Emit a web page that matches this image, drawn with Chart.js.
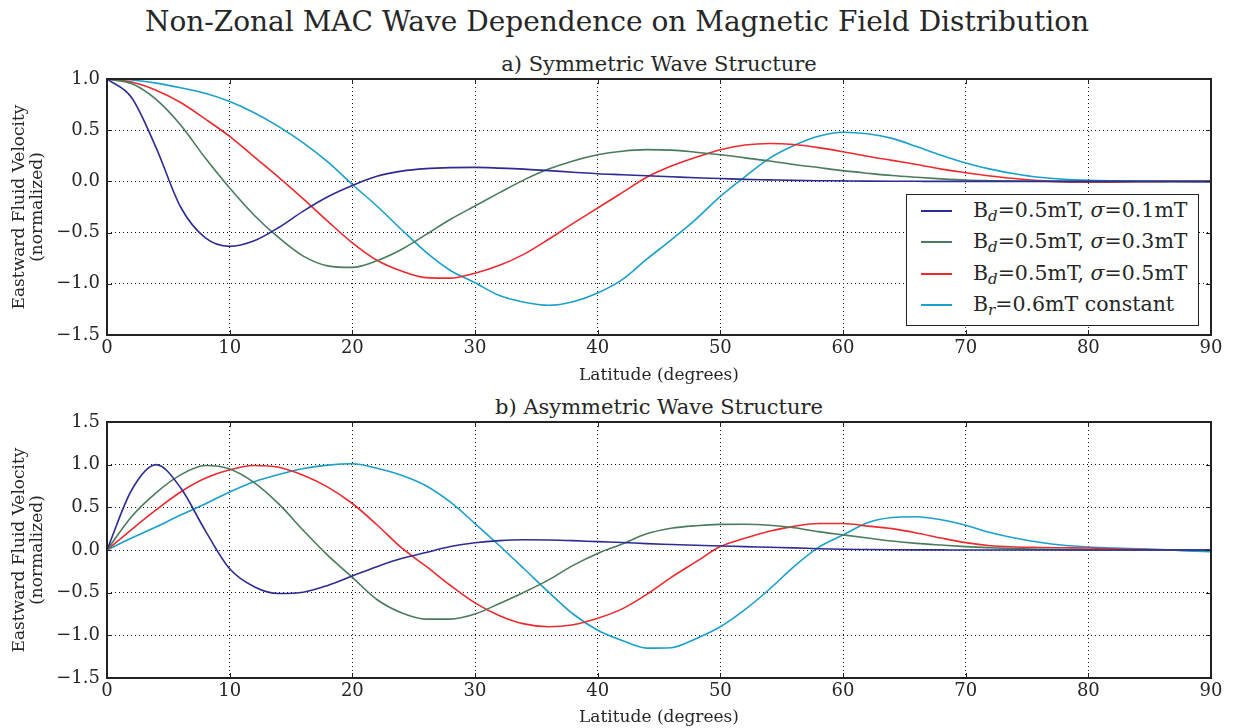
<!DOCTYPE html>
<html><head><meta charset="utf-8">
<script src="https://cdn.jsdelivr.net/npm/chart.js@4.4.1/dist/chart.umd.min.js"></script>
<style>
html,body{margin:0;padding:0;background:#fff;width:1234px;height:728px;overflow:hidden;font-family:"DejaVu Serif",serif;color:#262626}
#title{position:absolute;left:0;top:6px;width:1234px;text-align:center;font-size:28px;line-height:32px;white-space:nowrap}
.sub{position:absolute;left:107px;width:1104px;text-align:center;font-size:21px;line-height:24px;white-space:nowrap}
canvas{position:absolute;left:0}
#legend{position:absolute;left:906px;top:194px;width:293px;height:132px;border:1.5px solid #222;background:#fff;box-sizing:border-box;font-size:20.5px;z-index:5}
.row{position:absolute;left:0;width:100%;height:30px}
.swatch{position:absolute;left:14px;top:14px;width:31px;height:2px}
.lab{position:absolute;left:66px;top:2px;line-height:24px;white-space:nowrap}
.lab sub{font-size:15px;vertical-align:-4px;font-style:italic;line-height:0}
</style></head>
<body>
<div id="title">Non-Zonal MAC Wave Dependence on Magnetic Field Distribution</div>
<div class="sub" style="top:52px">a) Symmetric Wave Structure</div>
<div class="sub" style="top:395px">b) Asymmetric Wave Structure</div>
<canvas id="c1" width="1234" height="350" style="top:40px"></canvas>
<canvas id="c2" width="1234" height="338" style="top:390px"></canvas>
<div id="legend"></div>
<script>
// ---- data ----
const latitude = [0,2,4,6,8,10,12,14,16,18,20,22,24,26,28,30,32,34,36,38,40,42,44,46,48,50,52,54,56,58,60,62,64,66,68,70,72,74,76,78,80,82,84,86,88,90];
const seriesLabels = ['B_d=0.5mT, σ=0.1mT','B_d=0.5mT, σ=0.3mT','B_d=0.5mT, σ=0.5mT','B_r=0.6mT constant'];
const seriesColors = ['#2c2c94','#4a7c5c','#ee2a2e','#1aa0cc'];
const xTicks = [0,10,20,30,40,50,60,70,80,90];
const yTicksA = [-1.5,-1.0,-0.5,0.0,0.5,1.0];
const yTicksB = [-1.5,-1.0,-0.5,0.0,0.5,1.0,1.5];

// a) symmetric
const symBd01 = [1.0,0.82,0.33,-0.25,-0.55,-0.635,-0.58,-0.45,-0.29,-0.15,-0.04,0.05,0.10,0.125,0.135,0.137,0.13,0.12,0.105,0.09,0.075,0.065,0.055,0.045,0.035,0.028,0.02,0.015,0.01,0.007,0.005,0.003,0.002,0.001,0,0,0,0,0,0,0,0,0,0,0,0];
const symBd03 = [1.0,0.955,0.80,0.55,0.23,-0.065,-0.33,-0.55,-0.73,-0.825,-0.84,-0.775,-0.665,-0.52,-0.37,-0.24,-0.11,0.015,0.12,0.20,0.26,0.295,0.31,0.305,0.285,0.26,0.23,0.20,0.165,0.135,0.105,0.08,0.057,0.04,0.025,0.013,0.007,0.003,0.001,0,0,0,0,0,0,0];
const symBd05 = [1.0,0.97,0.89,0.77,0.61,0.44,0.24,0.04,-0.17,-0.39,-0.60,-0.77,-0.875,-0.94,-0.945,-0.896,-0.82,-0.71,-0.565,-0.41,-0.26,-0.11,0.04,0.15,0.235,0.31,0.355,0.37,0.36,0.33,0.29,0.245,0.205,0.165,0.12,0.085,0.053,0.028,0.008,-0.005,-0.008,-0.007,-0.004,-0.002,0,0];
const symBr06 = [1.0,0.99,0.96,0.915,0.86,0.78,0.67,0.535,0.377,0.19,-0.03,-0.24,-0.47,-0.69,-0.87,-0.99,-1.115,-1.18,-1.21,-1.175,-1.09,-0.96,-0.76,-0.57,-0.37,-0.147,0.045,0.225,0.35,0.44,0.48,0.465,0.42,0.34,0.255,0.18,0.12,0.075,0.04,0.02,0.01,0.005,0.002,0,-0.003,-0.005];
// b) asymmetric
const asymBd01 = [0,0.70,1.0,0.73,0.23,-0.22,-0.43,-0.51,-0.495,-0.415,-0.305,-0.195,-0.10,-0.03,0.04,0.085,0.11,0.12,0.118,0.11,0.098,0.088,0.075,0.065,0.055,0.047,0.04,0.032,0.025,0.015,0.008,0.005,0.003,0.002,0.001,0,0,0,0,0,0,0,0,0,0,0];
const asymBd03 = [0,0.39,0.67,0.88,0.99,0.95,0.79,0.54,0.23,-0.063,-0.32,-0.58,-0.735,-0.81,-0.81,-0.75,-0.627,-0.495,-0.35,-0.18,-0.04,0.07,0.19,0.255,0.285,0.30,0.302,0.29,0.26,0.215,0.177,0.14,0.105,0.078,0.058,0.04,0.027,0.016,0.009,0.004,0.001,0,0,0,0,0];
const asymBd05 = [0,0.24,0.47,0.68,0.84,0.94,0.99,0.97,0.876,0.737,0.545,0.296,0.027,-0.19,-0.416,-0.62,-0.77,-0.866,-0.90,-0.876,-0.80,-0.69,-0.52,-0.32,-0.14,0.04,0.137,0.22,0.277,0.31,0.31,0.28,0.25,0.20,0.14,0.086,0.05,0.036,0.03,0.026,0.023,0.015,0.007,0.003,0.001,0];
const asymBr06 = [0,0.14,0.27,0.41,0.54,0.68,0.80,0.885,0.955,0.995,1.01,0.957,0.876,0.753,0.56,0.31,0.05,-0.22,-0.493,-0.75,-0.94,-1.06,-1.15,-1.145,-1.04,-0.90,-0.70,-0.46,-0.195,0.03,0.176,0.32,0.38,0.39,0.354,0.29,0.205,0.14,0.09,0.055,0.035,0.024,0.014,0.005,-0.01,-0.02];

// ---- chart setup ----
Chart.defaults.font.family = '"DejaVu Serif", serif';
Chart.defaults.color = '#262626';
Chart.defaults.animation = false;

const fmtY = v => (v < 0 ? '\u2212' : '') + Math.abs(v).toFixed(1);

const framePlugin = {
  id: 'frame',
  afterDraw(chart) {
    const {ctx, chartArea: a, scales: {x, y}} = chart;
    ctx.save();
    ctx.strokeStyle = '#222';
    ctx.lineWidth = 1;
    ctx.beginPath();
    x.ticks.forEach(t => {
      const px = Math.round(x.getPixelForValue(t.value)) + 0.5;
      ctx.moveTo(px, a.bottom); ctx.lineTo(px, a.bottom - 5);
      ctx.moveTo(px, a.top); ctx.lineTo(px, a.top + 5);
    });
    y.ticks.forEach(t => {
      const py = Math.round(y.getPixelForValue(t.value)) + 0.5;
      ctx.moveTo(a.left, py); ctx.lineTo(a.left + 5, py);
      ctx.moveTo(a.right, py); ctx.lineTo(a.right - 5, py);
    });
    ctx.stroke();
    ctx.lineWidth = 2;
    ctx.strokeRect(a.left, a.top, a.right - a.left, a.bottom - a.top);
    ctx.restore();
  }
};

function makeChart(id, series, yTicks, padTop, xAxisHeight, xTitlePad) {
  const datasets = series.map((s, i) => ({
    label: seriesLabels[i],
    data: s.map((v, k) => ({x: latitude[k], y: v})),
    borderColor: seriesColors[i],
    backgroundColor: seriesColors[i],
    borderWidth: 1.6,
    pointRadius: 0,
    fill: false,
    cubicInterpolationMode: 'monotone'
  }));
  return new Chart(document.getElementById(id), {
    type: 'line',
    data: {datasets},
    options: {
      responsive: false,
      animation: false,
      layout: {padding: {top: padTop, right: 23, left: 0, bottom: 0}},
      plugins: {legend: {display: false}, tooltip: {enabled: false}, title: {display: false}},
      scales: {
        x: {
          type: 'linear', min: xTicks[0], max: xTicks[xTicks.length - 1],
          afterBuildTicks: s => { s.ticks = xTicks.map(v => ({value: v})); },
          afterFit: s => { s.height = xAxisHeight; },
          ticks: {font: {size: 18}, padding: 3, maxRotation: 0, autoSkip: false, callback: v => String(v)},
          grid: {color: '#111', lineWidth: 1, drawTicks: false},
          border: {display: false, dash: [1, 3]},
          title: {display: true, text: 'Latitude (degrees)', font: {size: 17}, padding: {top: 0, bottom: xTitlePad}}
        },
        y: {
          type: 'linear', min: yTicks[0], max: yTicks[yTicks.length - 1],
          afterBuildTicks: s => { s.ticks = yTicks.map(v => ({value: v})); },
          afterFit: s => { s.width = 107; },
          ticks: {font: {size: 18}, padding: 7, autoSkip: false, callback: fmtY},
          grid: {color: '#111', lineWidth: 1, drawTicks: false},
          border: {display: false, dash: [1, 3]},
          title: {display: true, text: ['Eastward Fluid Velocity', '(normalized)'], font: {size: 17, lineHeight: 1.06}, padding: {top: 11, bottom: 0}}
        }
      }
    },
    plugins: [framePlugin]
  });
}

const chartA = makeChart('c1', [symBd01, symBd03, symBd05, symBr06], yTicksA, 39, 55, 4);
const chartB = makeChart('c2', [asymBd01, asymBd03, asymBd05, asymBr06], yTicksB, 32, 50, 0);

// ---- legend for panel a, built from the chart's datasets ----
const legend = document.getElementById('legend');
chartA.data.datasets.forEach((ds, i) => {
  const row = document.createElement('div');
  row.className = 'row';
  row.style.top = (1 + i * 31.3) + 'px';
  const sw = document.createElement('div');
  sw.className = 'swatch';
  sw.style.background = ds.borderColor;
  const lab = document.createElement('div');
  lab.className = 'lab';
  lab.innerHTML = ds.label.replace(/_(\w)/, '<sub>$1</sub>').replace('σ', '<i>σ</i>');
  row.appendChild(sw); row.appendChild(lab);
  legend.appendChild(row);
});
</script>
</body></html>
